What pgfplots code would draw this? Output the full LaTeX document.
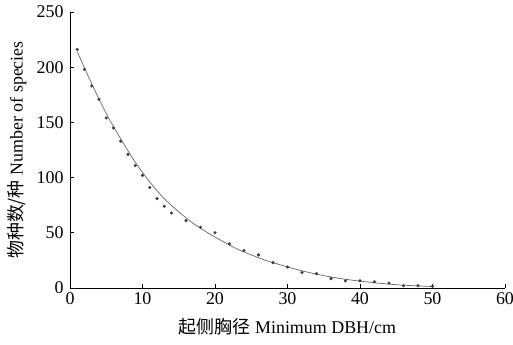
\documentclass[border=0pt]{standalone}
\usepackage{pgfplots}
\pgfplotsset{compat=1.18}
\usepackage{fontspec}
\setmainfont{Liberation Serif}
\newfontfamily\cjk{Noto Sans CJK SC}
\begin{document}
\begin{tikzpicture}
\path[use as bounding box] (-70bp,-57bp) rectangle (443bp,288bp);
\begin{axis}[
  at={(0,0)}, anchor=origin,
  scale only axis, width=435bp, height=276bp,
  xmin=0, xmax=60, ymin=0, ymax=250,
  axis x line=bottom, axis y line=left,
  axis line style={-, line width=0.8pt},
  tick align=inside, major tick length=4bp,
  tick style={black, line width=0.8pt},
  xtick={0,10,...,60}, ytick={0,50,...,250},
  /pgf/number format/assume math mode=true,
  ticklabel style={font=\fontsize{18}{18}\selectfont},
  yticklabel style={xshift=-3bp},
  xticklabel style={yshift=-1bp},
  xlabel={{\cjk 起侧胸径} Minimum DBH/cm},
  ylabel={{\cjk 物种数/种} Number of species},
  label style={font=\fontsize{18}{18}\selectfont},
  xlabel style={at={(axis description cs:0.5,0)}, anchor=north, yshift=-27bp},
  ylabel style={at={(axis description cs:0,0.5)}, anchor=south, yshift=40bp},
  clip=false,
]
\addplot[gray!80!black, line width=0.7pt, smooth] coordinates {
(1,214) (3,185) (5,158) (7,135) (9,114) (11,96) (13,81) (15,69) (17,58.5) (19,50)
(21,42.5) (23,35.5) (25,30) (27,25) (29,21) (31,17.2) (33,14) (35,11.2) (37,8.9) (39,7)
(41,5.5) (43,4.1) (45,3) (47,2.2) (49,1.6) (50,1.3)
};
\addplot[only marks, mark=*, mark size=1.4pt, black!75] coordinates {
(1,216) (2,198) (3,183) (4,171) (5,154) (6,145) (7,133) (8,121) (9,111) (10,102)
(11,91) (12,81) (13,74) (14,68) (16,61) (18,55) (20,50) (22,40) (24,34) (26,30)
(28,23) (30,19) (32,14) (34,13) (36,8.5) (38,6.5) (40,6.5) (42,5.7) (44,4.5) (46,2)
(48,2) (50,1.5)
};
\end{axis}
\end{tikzpicture}
\end{document}
